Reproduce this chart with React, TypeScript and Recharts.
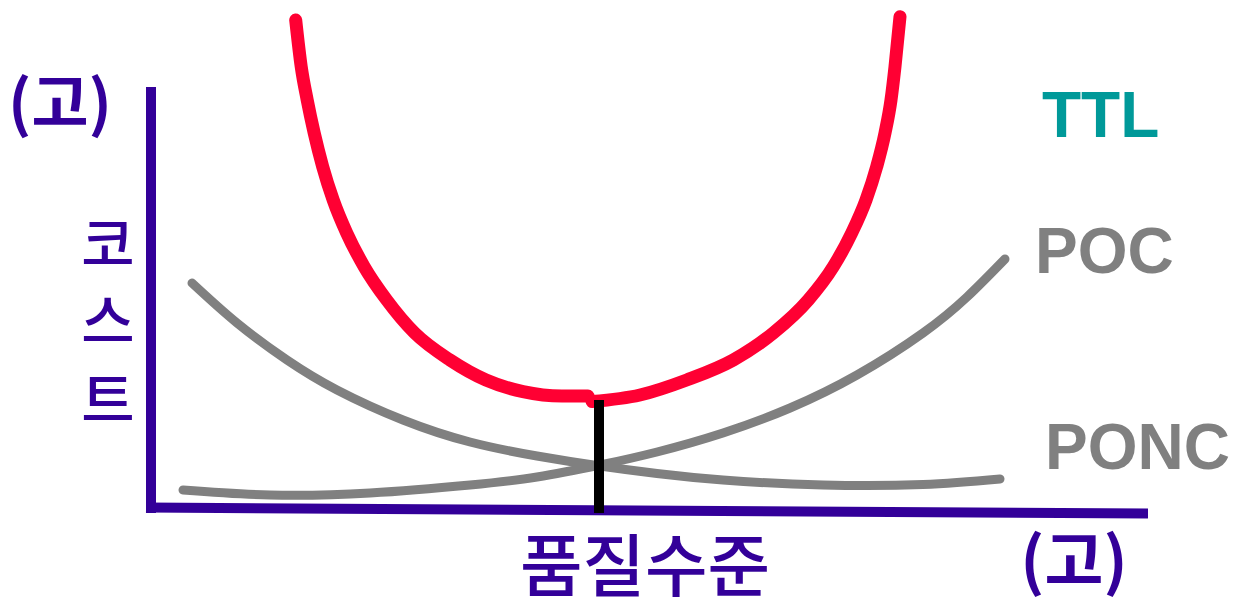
import React from "react";
import { LineChart, Line, XAxis, YAxis, ReferenceLine } from "recharts";

// quality level (x) vs cost (y), both on a 0-100 scale
const ttlLeftX = [14.57, 15.12, 15.72, 16.42, 17.27, 18.32, 19.67, 21.42, 23.67, 26.47, 30.0, 33.6, 37.3, 41.2, 43.8];
const ttlLeftY = [98, 88.67, 82, 75.4, 68.67, 62, 55.4, 48.67, 42, 35.4, 30, 26, 23.67, 22.8, 22.8];
const ttlRightX = [44.2, 49, 53.67, 58.33, 62.33, 65.83, 68.33, 70.17, 71.6, 72.67, 73.5, 74.1, 74.5, 75];
const ttlRightY = [21.7, 23, 26, 30, 35.4, 42, 48.67, 55.4, 62, 68.67, 75.4, 82, 88.67, 98.67];

const pocX = [3.3, 12, 22, 32, 38.7, 45, 50.7, 57.3, 64, 70.7, 77.3, 81.7, 85.5];
const pocY = [4, 3, 3.4, 5, 6.6, 9, 11.6, 15.4, 20.4, 27.0, 35.4, 42.6, 50.2];

const poncX = [4.2, 8.7, 13.7, 18.7, 25.3, 32, 38.7, 45, 50.7, 57.3, 67.3, 77.3, 85];
const poncY = [45.4, 37.4, 30, 24, 18, 13.6, 10.8, 8.8, 7.3, 6.0, 5.0, 5.1, 6.2];

const optimumX = 44.9;
const optimumY = 22;

const zip = (xs: number[], ys: number[]) => xs.map((x, i) => ({ x, y: ys[i] }));

const AXIS = "#330099";
const RED = "#FF0033";
const GRAY = "#808080";

export default function App() {
  return (
    <div style={{ position: "absolute", left: 0, top: 0, width: 1233, height: 598, background: "#fff", overflow: "hidden" }}>
      <LineChart width={1233} height={598} margin={{ top: 10, right: 83, bottom: 88, left: 150 }}>
        <XAxis type="number" dataKey="x" domain={[0, 100]} hide allowDataOverflow />
        <YAxis type="number" dataKey="y" domain={[0, 100]} hide allowDataOverflow />
        <ReferenceLine segment={[{ x: 0.1, y: 84.6 }, { x: 0.1, y: -0.6 }]} stroke={AXIS} strokeWidth={10} ifOverflow="visible" />
        <ReferenceLine segment={[{ x: -0.4, y: 0.5 }, { x: 99.8, y: -0.7 }]} stroke={AXIS} strokeWidth={10} ifOverflow="visible" />
        <Line data={zip(pocX, pocY)} dataKey="y" type="natural" stroke={GRAY} strokeWidth={9} strokeLinecap="round" dot={false} isAnimationActive={false} />
        <Line data={zip(poncX, poncY)} dataKey="y" type="natural" stroke={GRAY} strokeWidth={9} strokeLinecap="round" dot={false} isAnimationActive={false} />
        <Line data={zip(ttlLeftX, ttlLeftY)} dataKey="y" type="monotone" stroke={RED} strokeWidth={13} strokeLinecap="round" dot={false} isAnimationActive={false} />
        <Line data={zip(ttlRightX, ttlRightY)} dataKey="y" type="monotone" stroke={RED} strokeWidth={13} strokeLinecap="round" dot={false} isAnimationActive={false} />
        <ReferenceLine segment={[{ x: optimumX, y: -0.6 }, { x: optimumX, y: optimumY }]} stroke="#000" strokeWidth={10} ifOverflow="visible" />
      </LineChart>
      <svg width={1233} height={598} style={{ position: "absolute", left: 0, top: 0, pointerEvents: "none" }}>
        <g fontFamily="'Noto Sans CJK KR', 'Noto Sans CJK SC', sans-serif" fill={AXIS}>
          <text x={60} y={126} fontSize={62} fontWeight={700} textAnchor="middle">(고)</text>
          <text x={108} y={266} fontSize={58} fontWeight={500} textAnchor="middle">코</text>
          <text x={108} y={343} fontSize={58} fontWeight={500} textAnchor="middle">스</text>
          <text x={108} y={421} fontSize={58} fontWeight={500} textAnchor="middle">트</text>
          <text x={645} y={591} fontSize={68} fontWeight={500} textAnchor="middle">품질수준</text>
          <text x={1074} y={584} fontSize={64} fontWeight={700} textAnchor="middle">(고)</text>
        </g>
        <g fontFamily="'Liberation Sans', Arial, sans-serif" fontWeight={700} fontSize={64}>
          <text x={1042} y={137} fill="#009999">TTL</text>
          <text x={1035} y={273} fill={GRAY}>POC</text>
          <text x={1045} y={469} fill={GRAY}>PONC</text>
        </g>
      </svg>
    </div>
  );
}
